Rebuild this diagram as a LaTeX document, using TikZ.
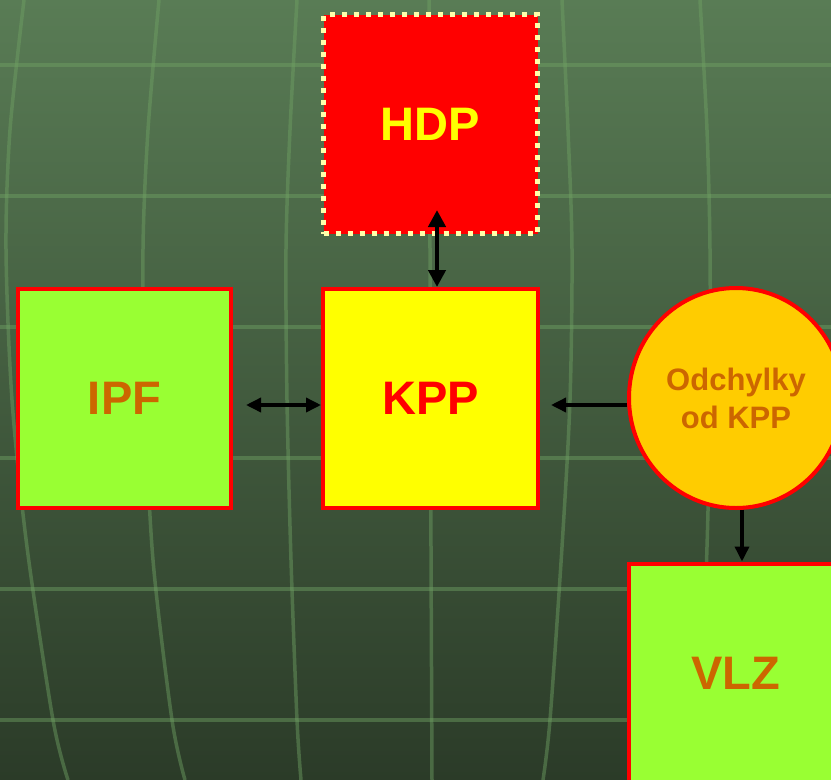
\documentclass[tikz,border=0pt]{standalone}
\usepackage{fontspec}
\setmainfont{Liberation Sans}
\usepackage{tikz}
\usetikzlibrary{arrows.meta}
\usetikzlibrary{calc}
\usetikzlibrary{shapes.geometric}
\definecolor{bgtop}{RGB}{89,124,85}
\definecolor{bgbot}{RGB}{43,59,40}
\definecolor{gridgreen}{RGB}{112,162,100}
\definecolor{limegreen}{RGB}{153,255,51}
\definecolor{darkorange}{RGB}{204,102,0}
\definecolor{paleyellow}{RGB}{255,255,170}
\definecolor{gold}{RGB}{255,204,0}
\definecolor{pureyellow}{RGB}{255,255,0}
\definecolor{purered}{RGB}{255,0,0}

\begin{document}
\begin{tikzpicture}[
    x=1pt, y=-1pt,
    grid line/.style={line width=3.5pt, color=gridgreen, opacity=0.45},
    box/.style={rectangle, draw=purered, line width=4pt, minimum width=215pt, minimum height=219pt, inner sep=0pt, font=\fontsize{47}{50}\selectfont\bfseries},
    link/.style={<->, >={Triangle[length=15pt, width=14pt]}, line width=3.5pt},
    every node/.style={color=black}
    ]

    % frame
    \path[use as bounding box, clip] (0,0) rectangle (831,780);
    \shade[top color=bgtop, bottom color=bgbot] (0,0) rectangle (831,780);
    % grid
    \foreach \y in {65,196,327,458,589,720}
        \draw[grid line] (0,\y) -- (831,\y);
    \draw[grid line] plot[smooth] coordinates {(24,0) (10,130) (6,249) (12,400) (27,547) (53,720) (68,780)};
    \draw[grid line] plot[smooth] coordinates {(159,0) (148,130) (143,249) (145,400) (153,560) (172,720) (185,780)};
    \draw[grid line] plot[smooth] coordinates {(297,0) (290,130) (286,249) (287,400) (291,560) (297,720) (301,780)};
    \draw[grid line] plot[smooth] coordinates {(429,0) (430,249) (431,547) (432,780)};
    \draw[grid line] plot[smooth] coordinates {(562,0) (568,130) (572,249) (570,400) (562,547) (550,720) (543,780)};
    \draw[grid line] plot[smooth] coordinates {(700,0) (707,130) (710,249) (710,400) (707,547) (700,720) (696,780)};

    % blocks
    \node[box, fill=purered, draw=paleyellow, line width=5pt, dash pattern=on 5pt off 7pt, minimum width=214pt] (HDP) at (430.5,124) {\textcolor{pureyellow}{HDP}};
    \node[box, fill=pureyellow] (KPP) at (430.5,398.5) {\textcolor{purered}{KPP}};
    \node[box, fill=limegreen, minimum width=213pt] (IPF) at (124.5,398.5) {\textcolor{darkorange}{IPF}};
    \node[box, fill=limegreen] (VLZ) at (736,673) {\textcolor{darkorange}{VLZ}};
    \node[ellipse, draw=purered, line width=4pt, fill=gold, minimum width=214pt, minimum height=220pt, inner sep=0pt,
          align=center, font=\fontsize{31}{38}\selectfont\bfseries] (ODCH) at (736,398)
          {\textcolor{darkorange}{Odchylky}\\\textcolor{darkorange}{od KPP}};

    % links
    \coordinate (hdpend) at (437,210);
    \coordinate (ipfend) at (246,405);
    \coordinate (kppend) at (551,405);
    \coordinate (vlzend) at (742,0);
    \draw[link, line width=4.5pt, >={Triangle[length=17pt, width=17pt]}] (hdpend) -- (hdpend |- KPP.north);
    \draw[link] (ipfend) -- (ipfend -| KPP.west);
    \draw[link, <-] (kppend) -- (kppend -| ODCH.west);
    \draw[link, ->] (vlzend |- ODCH.south) -- (vlzend |- VLZ.north);
\end{tikzpicture}
\end{document}
